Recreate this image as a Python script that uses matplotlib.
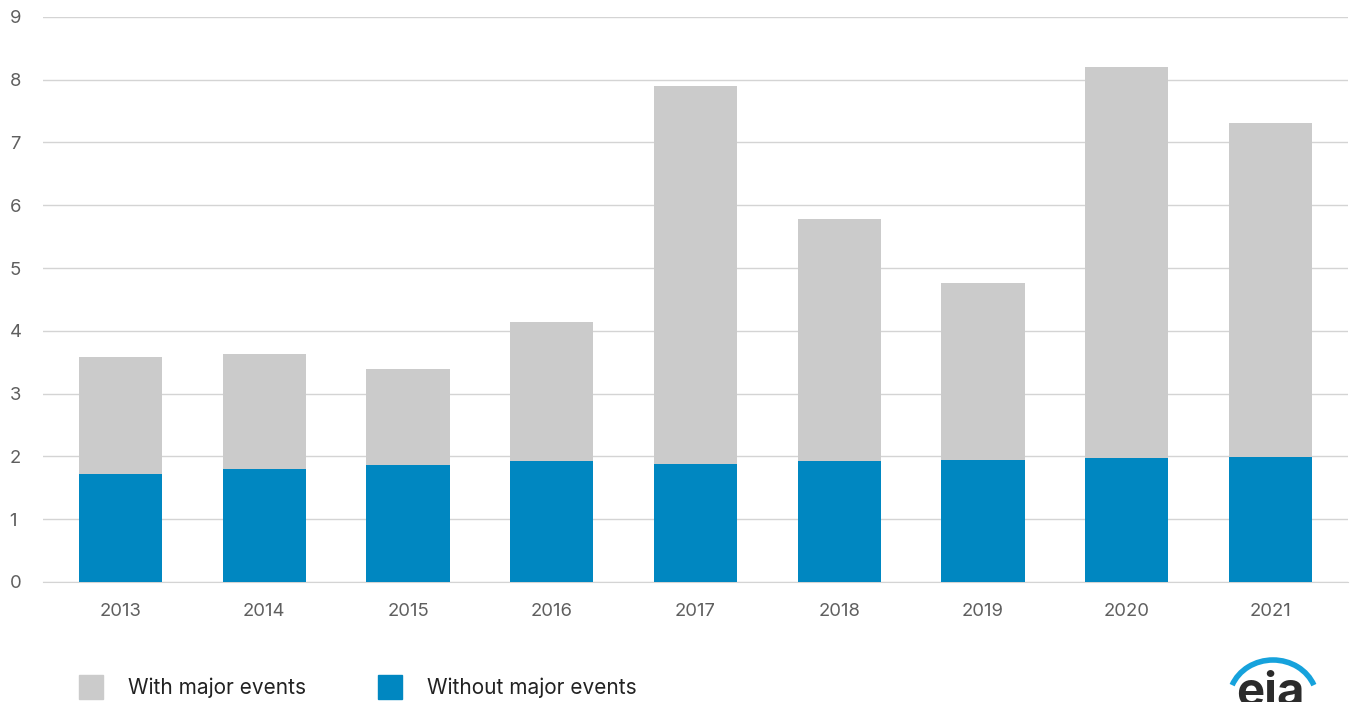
import matplotlib
matplotlib.use("Agg")
import matplotlib.pyplot as plt
from matplotlib.patches import Rectangle, Arc
import numpy as np

years = ["2013", "2014", "2015", "2016", "2017", "2018", "2019", "2020", "2021"]
with_major = [3.58, 3.63, 3.39, 4.14, 7.90, 5.78, 4.76, 8.20, 7.31]
without_major = [1.72, 1.80, 1.86, 1.93, 1.88, 1.93, 1.94, 1.97, 1.99]

GREY = "#cbcbcb"
BLUE = "#0087c1"
TICK = "#5f5f5f"

plt.rcParams["font.family"] = ["Inter", "DejaVu Sans"]

fig = plt.figure(figsize=(13.51, 7.02), dpi=100)
ax = fig.add_axes([0.0318, 0.171, 0.966, 0.805])

x = np.arange(len(years))
ax.bar(x, with_major, width=0.58, color=GREY, zorder=2)
ax.bar(x, without_major, width=0.58, color=BLUE, zorder=3)

ax.set_ylim(0, 9)
ax.set_xlim(-0.54, 8.54)
ax.set_yticks(range(10))
ax.yaxis.grid(True, color="#d4d4d4", linewidth=1.0, zorder=0)
ax.set_xticks(x)
ax.set_xticklabels(years)
ax.tick_params(axis="both", length=0, labelsize=13.3, colors=TICK)
ax.tick_params(axis="x", pad=15)
ax.tick_params(axis="y", pad=24)
for lbl in ax.get_yticklabels():
    lbl.set_horizontalalignment("left")
for side in ["top", "right", "left"]:
    ax.spines[side].set_visible(False)
ax.spines["bottom"].set_color("#d4d4d4")

# legend drawn by hand along the bottom
W, H = 1351, 702
def fig_rect(px, py, w, h, color):
    fig.patches.append(Rectangle((px / W, 1 - (py + h) / H), w / W, h / H,
                                 transform=fig.transFigure, color=color))

fig_rect(79, 675, 24, 24, GREY)
fig.text(128 / W, 1 - 688 / H, "With major events", fontsize=15,
         color="#222222", va="center")
fig_rect(378, 675, 24, 24, BLUE)
fig.text(427 / W, 1 - 688 / H, "Without major events", fontsize=15,
         color="#222222", va="center")

# eia mark, bottom right
logo = fig.add_axes([1215 / W, 0, 110 / W, 50 / H])
logo.set_xlim(0, 110)
logo.set_ylim(0, 50)
logo.axis("off")
logo.add_patch(Arc((58, 2), 88, 80, theta1=20, theta2=160,
                   color="#16a2dc", linewidth=4))
logo.text(55, -14, "eia", fontsize=34, fontweight="bold", color="#2b2b2b",
          ha="center", va="bottom", clip_on=True)

fig.savefig("out.png", dpi=100, facecolor="white")
